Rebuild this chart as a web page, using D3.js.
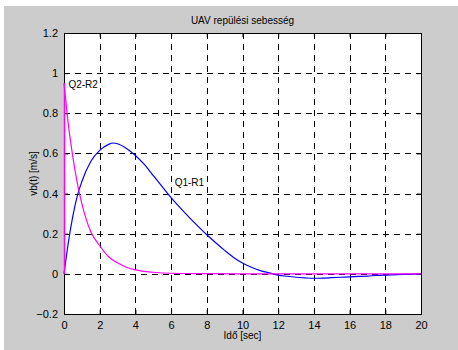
<!DOCTYPE html>
<html>
<head>
<meta charset="utf-8">
<script src="https://cdn.jsdelivr.net/npm/d3@7"></script>
<style>
body { margin: 0; background: #fff; }
text { font-family: "Liberation Sans", Arial, sans-serif; }
</style>
</head>
<body>
<div class="chart"></div>
<script>
// values
var tQ1 = [0, 0.25, 0.5, 0.75, 1, 1.5, 2, 2.5, 2.75, 3, 3.5, 4, 4.5, 5, 5.5, 6, 6.5, 7, 7.5, 8, 8.5, 9, 9.5, 10, 10.5, 11, 11.5, 12, 12.5, 13, 13.5, 14, 14.5, 15, 15.5, 16, 16.5, 17, 17.5, 18, 19, 20];
var vQ1 = [0, 0.16, 0.29, 0.39, 0.46, 0.56, 0.615, 0.645, 0.652, 0.648, 0.625, 0.59, 0.545, 0.49, 0.435, 0.38, 0.33, 0.283, 0.238, 0.195, 0.155, 0.117, 0.082, 0.054, 0.033, 0.016, 0.005, -0.006, -0.012, -0.017, -0.02, -0.022, -0.021, -0.019, -0.017, -0.015, -0.013, -0.011, -0.008, -0.006, -0.003, 0];
var tQ2 = [0, 0, 0.25, 0.5, 0.75, 1, 1.25, 1.5, 2, 2.5, 3, 3.5, 4, 5, 6, 8, 10, 12, 14, 16, 18, 20];
var vQ2 = [0, 0.95, 0.74, 0.58, 0.45, 0.35, 0.27, 0.21, 0.14, 0.085, 0.055, 0.033, 0.02, 0.008, 0.003, 0.001, 0, 0, 0, 0, 0, 0];
var xTicks = [0, 2, 4, 6, 8, 10, 12, 14, 16, 18, 20];
var yTicks = [-0.2, 0, 0.2, 0.4, 0.6, 0.8, 1, 1.2];

var svgWidth = 458;
var svgHeight = 350;
var margin = { top: 33, bottom: 36, right: 37, left: 64 };
var width = svgWidth - margin.left - margin.right;
var height = svgHeight - margin.top - margin.bottom;

var svg = d3.select('.chart')
	.append('svg')
	.attr('width', svgWidth)
	.attr('height', svgHeight);

// grey figure background
svg.append('rect')
	.attr('x', 4).attr('y', 6)
	.attr('width', svgWidth - 4).attr('height', svgHeight - 6)
	.attr('fill', '#cccccc');

var chart = svg.append('g')
	.attr('transform', `translate(${margin.left}, ${margin.top})`);

var x = d3.scaleLinear().domain([0, 20]).range([0, width]);
var y = d3.scaleLinear().domain([-0.2, 1.2]).range([height, 0]);

chart.append('rect')
	.attr('width', width).attr('height', height)
	.attr('fill', '#fff');

// dashed grid
chart.selectAll('.vgrid')
	.data(xTicks.slice(1, -1))
	.enter().append('line')
	.attr('x1', d => Math.round(x(d)) + 0.5).attr('x2', d => Math.round(x(d)) + 0.5)
	.attr('y1', 0).attr('y2', height)
	.attr('stroke', '#000').attr('stroke-dasharray', '6,5');

chart.selectAll('.hgrid')
	.data(yTicks.slice(1, -1))
	.enter().append('line')
	.attr('x1', 0).attr('x2', width)
	.attr('y1', d => Math.round(y(d)) + 0.5).attr('y2', d => Math.round(y(d)) + 0.5)
	.attr('stroke', '#000').attr('stroke-dasharray', '6,5');

// axes
var bottomAxis = d3.axisBottom(x).tickValues(xTicks).tickSize(-4).tickPadding(7).tickFormat(d3.format('d'));
var leftAxis = d3.axisLeft(y).tickValues(yTicks).tickSize(-4).tickPadding(6).tickFormat(d => d === 0 ? '0' : d3.format('')(+d.toFixed(1)));
var topAxis = d3.axisTop(x).tickValues(xTicks).tickSize(-4).tickFormat('');
var rightAxis = d3.axisRight(y).tickValues(yTicks).tickSize(-4).tickFormat('');

[
	[bottomAxis, `translate(0, ${height})`],
	[leftAxis, 'translate(0, 0)'],
	[topAxis, 'translate(0, 0)'],
	[rightAxis, `translate(${width}, 0)`]
].forEach(function(a) {
	var g = chart.append('g').attr('transform', a[1]).call(a[0]);
	g.select('.domain').attr('stroke', '#000');
	g.selectAll('text').attr('fill', '#000').style('font-size', '11px');
});

// curves
var line = d3.line()
	.x(function(d) { return x(d[0]); })
	.y(function(d) { return y(d[1]); })
	.curve(d3.curveMonotoneX);

var lineQ2 = d3.line()
	.x(function(d) { return x(d[0]) + 0.5; })
	.y(function(d) { return y(d[1]); })
	.curve(d3.curveLinear);

chart.append('path')
	.datum(tQ1.map((t, i) => [t, vQ1[i]]))
	.attr('d', line)
	.attr('fill', 'none').attr('stroke', '#0000ff').attr('stroke-width', 1.2);

var q2 = tQ2.map((t, i) => [t, vQ2[i]]);
chart.append('path')
	.datum(q2.slice(0, 2))
	.attr('d', lineQ2)
	.attr('fill', 'none').attr('stroke', '#ff00ff').attr('stroke-width', 1.5);
chart.append('path')
	.datum(q2.slice(1))
	.attr('d', line)
	.attr('fill', 'none').attr('stroke', '#ff00ff').attr('stroke-width', 1.2);

// labels
svg.append('text')
	.attr('x', margin.left + width / 2).attr('y', 24)
	.attr('text-anchor', 'middle').style('font-size', '10px')
	.text('UAV repülési sebesség');

svg.append('text')
	.attr('x', margin.left + width / 2).attr('y', 339)
	.attr('text-anchor', 'middle').style('font-size', '10px')
	.text('Idő [sec]');

svg.append('text')
	.attr('transform', `translate(37, ${margin.top + height / 2}) rotate(-90)`)
	.attr('text-anchor', 'middle').style('font-size', '10px')
	.text('vb(t) [m/s]');

chart.append('text')
	.attr('x', x(0.25)).attr('y', y(0.925))
	.style('font-size', '10px')
	.text('Q2-R2');

chart.append('text')
	.attr('x', x(6.2)).attr('y', y(0.44))
	.style('font-size', '10px')
	.text('Q1-R1');
</script>
</body>
</html>
